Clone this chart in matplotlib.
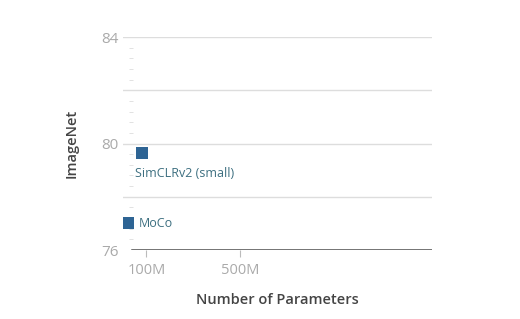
import matplotlib.pyplot as plt
import matplotlib.ticker as ticker

# Datos
models = ["MoCo", "SimCLRv2 (small)"]
params_m = [20, 82]
imagenet = [77.0, 79.65]

y_labels = [76, 80, 84]
x_ticks = [100, 500]
x_tick_labels = ["100M", "500M"]

plt.rcParams['font.family'] = ['Open Sans', 'DejaVu Sans']

fig = plt.figure(figsize=(5.2, 3.19), dpi=100)
ax = fig.add_axes([0.2365, 0.2163, 0.5945, 0.6677])

ax.scatter(params_m, imagenet, marker='s', s=70, color='#2e6494', zorder=3, linewidths=0)

# Etiquetas de los puntos
ax.annotate(models[0], (params_m[0], imagenet[0]), xytext=(8, 0), textcoords='offset points',
            va='center', ha='left', fontsize=9, color='#3d6f80')
ax.annotate(models[1], (params_m[1], imagenet[1]), xytext=(-5, -15), textcoords='offset points',
            va='center', ha='left', fontsize=9, color='#3d6f80')

ax.set_xlim(0, 1320)
ax.set_ylim(76, 84)

# Rejilla
for y in [78, 80, 82, 84]:
    ax.axhline(y, color='#dddddd', linewidth=1, zorder=1)
ax.axhline(76, xmin=0.03, color='#4a4a4a', linewidth=1.8, zorder=2)

ax.set_yticks(y_labels)
ax.yaxis.set_minor_locator(ticker.MultipleLocator(0.4))
ax.set_xticks(x_ticks, x_tick_labels)

ax.tick_params(axis='y', which='major', length=0, pad=3, labelsize=11, labelcolor='#aaaaaa')
ax.tick_params(axis='y', which='minor', length=3, color='#dddddd', direction='in', pad=0)
ax.tick_params(axis='x', which='major', length=5, width=0.8, color='#bbbbbb', pad=4,
               labelsize=10.5, labelcolor='#aaaaaa')
for t in ax.yaxis.get_minor_ticks():
    t.tick1line.set_xdata([0.02])

for side in ['top', 'right', 'left', 'bottom']:
    ax.spines[side].set_visible(False)

ax.set_ylabel("ImageNet", fontsize=10.5, fontweight='semibold', color='#444444', labelpad=16)
ax.set_xlabel("Number of Parameters", fontsize=10.5, fontweight='semibold', color='#444444', labelpad=11)

fig.savefig("out.png", dpi=100)
